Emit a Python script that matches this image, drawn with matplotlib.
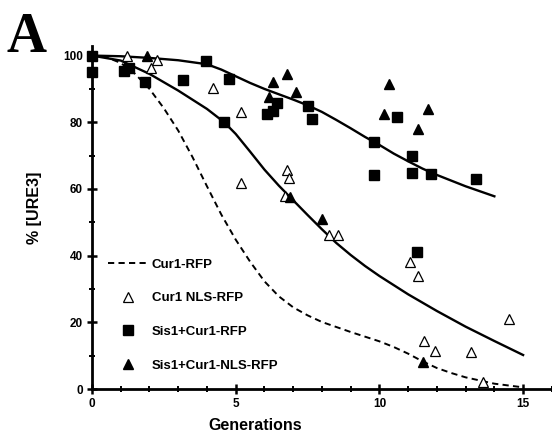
#---------------------------------------------------------------------------------
# FILE: plot.py
# Description: [URE3] loss over generations, panel A
#---------------------------------------------------------------------------------

import matplotlib
matplotlib.use('Agg')
import matplotlib.pyplot as plt
from matplotlib.ticker import MultipleLocator

#---------------------------------------------------------------------------------
# DATA

# Cur1 NLS-RFP (open triangles)
nls_x = [1.2, 2.05, 2.25, 4.2, 5.2, 5.2, 6.8, 6.85, 6.7, 8.25, 8.55,
         11.05, 11.35, 14.5, 11.55, 11.95, 13.2, 13.6]
nls_y = [100, 96.3, 98.6, 90.3, 83, 61.8, 65.7, 63.2, 57.8, 46.2, 46.2,
         38, 34, 21, 14.4, 11.3, 11, 2.2]

# Sis1+Cur1-RFP (filled squares)
sis_x = [0, 0, 1.1, 1.3, 1.85, 3.15, 3.95, 4.75, 4.6, 6.1, 6.3, 6.45, 7.5, 7.65,
         9.8, 9.8, 10.6, 11.15, 11.15, 11.8, 13.35, 11.3]
sis_y = [100, 95, 95.5, 96.2, 92, 92.8, 98.5, 93, 80, 82.5, 83.5, 85.8, 85, 81,
         74, 64.3, 81.7, 69.8, 64.8, 64.5, 63, 41]

# Sis1+Cur1-NLS-RFP (filled triangles)
sisnls_x = [1.9, 6.15, 6.3, 6.8, 7.1, 6.9, 8.0, 10.15, 10.35, 11.35, 11.7, 11.5]
sisnls_y = [100, 87.6, 92, 94.5, 89, 57.5, 51, 82.5, 91.5, 78, 84, 8]

# Cur1-RFP fit (dashed)
cur1_fit_x = [0, 0.5, 1, 1.5, 2, 2.5, 3, 3.5, 4, 4.5, 5, 5.5, 6, 6.5, 7, 7.5,
              8, 9, 10, 10.5, 11, 11.5, 12, 12.5, 13, 14, 15]
cur1_fit_y = [100, 99.5, 97.8, 94.5, 90, 84.2, 77.5, 69.5, 60.8, 52.3, 44.8,
              38.2, 32.3, 27.8, 24.5, 22.1, 20.1, 17.1, 14.3, 12.6, 10.6, 8.3,
              6.3, 4.8, 3.5, 1.6, 0.5]

# Cur1 NLS-RFP fit (solid, lower)
nls_fit_x = [0, 1, 2, 3, 4, 4.6, 5, 5.5, 6, 6.5, 7, 7.5, 8, 8.5, 9, 9.5, 10,
             11, 12, 13, 14, 15]
nls_fit_y = [100, 98.5, 94.5, 89.5, 84, 80, 76.5, 71.2, 65.8, 61, 56.6, 52.2,
             47.9, 43.8, 40.2, 36.9, 33.9, 28.4, 23.4, 18.7, 14.4, 10.2]

# Sis1+Cur1-RFP fit (solid, upper)
sis_fit_x = [0, 1, 2, 3, 4, 4.5, 5, 5.5, 6, 6.5, 7, 7.5, 8, 8.5, 9, 9.5, 10,
             10.5, 11, 11.5, 12, 13, 14]
sis_fit_y = [100, 99.8, 99.3, 98.6, 97.4, 95.8, 93.8, 91.8, 90, 88.4, 86.8,
             85.1, 83.1, 80.7, 78.2, 75.6, 73.2, 70.6, 68.3, 66.1, 64.2, 60.8,
             57.8]

x_ticks = [0, 5, 10, 15]
y_ticks = [0, 20, 40, 60, 80, 100]

#---------------------------------------------------------------------------------
# PLOT

plt.rcParams['font.family'] = ['Liberation Sans', 'DejaVu Sans']

fig = plt.figure(figsize=(5.52, 4.32), dpi=100)
ax = fig.add_axes([0.1667, 0.0995, 0.833, 0.795])

ax.plot(cur1_fit_x, cur1_fit_y, color='black', lw=1.4, ls=(0, (3.2, 2.2)),
        label='Cur1-RFP', zorder=2)
ax.plot(nls_fit_x, nls_fit_y, color='black', lw=1.7, zorder=2)
ax.plot(sis_fit_x, sis_fit_y, color='black', lw=1.7, zorder=2)

ax.plot(nls_x, nls_y, ls='none', marker='^', ms=7, mfc='white', mec='black',
        mew=0.9, label='Cur1 NLS-RFP', zorder=3, clip_on=False)
ax.plot(sis_x, sis_y, ls='none', marker='s', ms=6.5, mfc='black', mec='black',
        label='Sis1+Cur1-RFP', zorder=3, clip_on=False)
ax.plot(sisnls_x, sisnls_y, ls='none', marker='^', ms=7, mfc='black', mec='black',
        label='Sis1+Cur1-NLS-RFP', zorder=3, clip_on=False)

ax.set_xlim(0, 16)
ax.set_ylim(0, 103)
ax.set_xticks(x_ticks)
ax.set_yticks(y_ticks)
ax.xaxis.set_minor_locator(MultipleLocator(1))
ax.yaxis.set_minor_locator(MultipleLocator(10))

for side in ['top', 'right']:
    ax.spines[side].set_visible(False)
for side in ['left', 'bottom']:
    ax.spines[side].set_linewidth(2.0)

ax.tick_params(which='major', direction='inout', length=7, width=1.8,
               labelsize=8.5, pad=3)
ax.tick_params(which='minor', direction='inout', length=4, width=1.4)
for lbl in ax.get_xticklabels() + ax.get_yticklabels():
    lbl.set_fontweight('bold')

ax.set_xlabel('Generations', fontsize=11.5, fontweight='bold')
ax.xaxis.set_label_coords(0.354, -0.085)
ax.set_ylabel('% [URE3]', fontsize=11.5, fontweight='bold')
ax.yaxis.set_label_coords(-0.109, 0.527)

leg = ax.legend(loc='upper left', bbox_to_anchor=(0.035, 0.38), frameon=False,
                prop={'weight': 'bold', 'size': 9.5}, handlelength=3.0,
                handletextpad=0.3, labelspacing=1.62, borderpad=0,
                borderaxespad=0)

fig.text(0.012, 0.972, 'A', fontsize=40, fontweight='bold',
         family=['Liberation Serif', 'DejaVu Serif'], va='top', ha='left')

fig.savefig('out.png', dpi=100)
